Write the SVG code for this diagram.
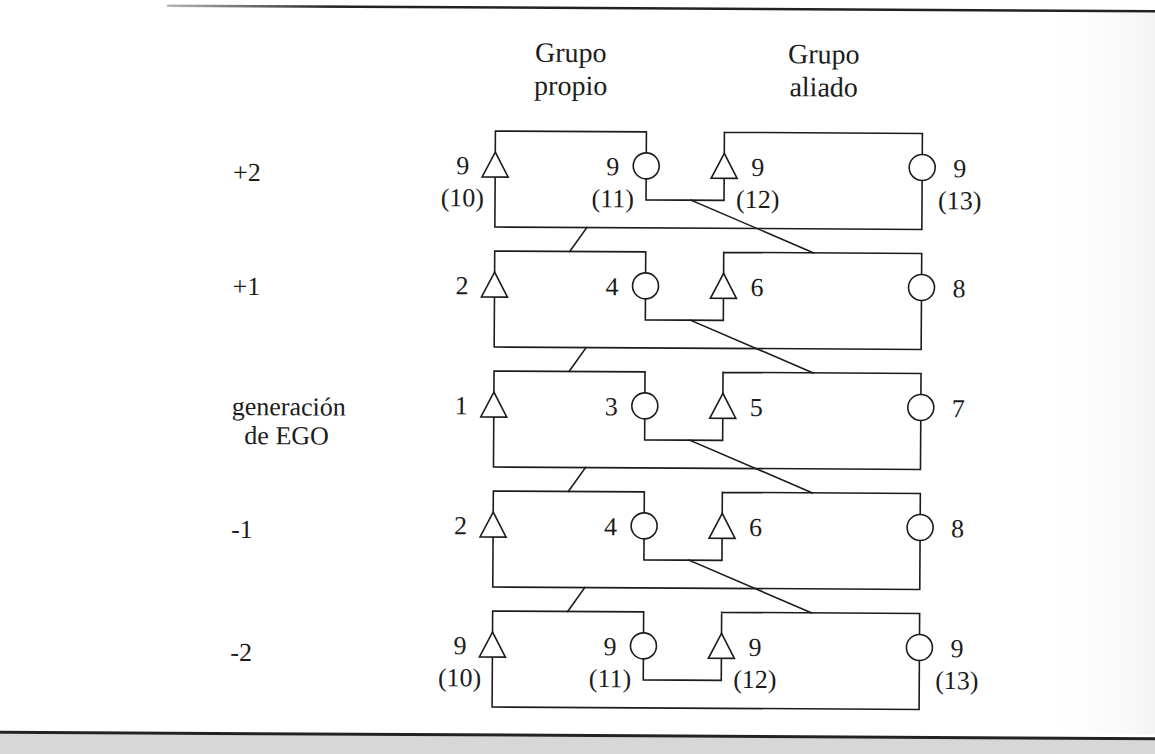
<svg xmlns="http://www.w3.org/2000/svg" width="1155" height="754" viewBox="0 0 1155 754">
<defs>
<style>
.ln{fill:none;stroke:#1c1c1c;stroke-width:1.6;stroke-linecap:square}
.sym{fill:#fff;stroke:#1c1c1c;stroke-width:1.6}
.t{font-family:"Liberation Serif","Times New Roman",serif;font-size:26px;fill:#1c1c1c}
.h{font-family:"Liberation Serif","Times New Roman",serif;font-size:28px;fill:#1c1c1c;text-anchor:middle}
.e{text-anchor:end}
.m{text-anchor:middle}
</style>
<linearGradient id="topfade" gradientUnits="userSpaceOnUse" x1="160" y1="0" x2="330" y2="0">
<stop offset="0" stop-color="#bbbbbb"/>
<stop offset="1" stop-color="#222222"/>
</linearGradient>
<linearGradient id="edge" x1="0" y1="0" x2="1" y2="0">
<stop offset="0" stop-color="#ffffff" stop-opacity="0"/>
<stop offset="1" stop-color="#ececec" stop-opacity="1"/>
</linearGradient>
</defs>
<rect width="1155" height="754" fill="#ffffff"/>
<rect x="1040" y="12" width="115" height="722" fill="url(#edge)" opacity="0.6"/>
<g transform="rotate(0.33 577 377)">
<line x1="165" y1="8" x2="1160" y2="8" stroke="url(#topfade)" stroke-width="2.5"/>
<rect x="-10" y="737" width="1180" height="25" fill="#d7d7d7"/>
<line x1="-10" y1="735.5" x2="1170" y2="735.5" stroke="#222" stroke-width="3"/>

<g id="headers">
<text class="h" x="569" y="62">Grupo</text>
<text class="h" x="569" y="95">propio</text>
<text class="h" x="822" y="62">Grupo</text>
<text class="h" x="822" y="95">aliado</text>
</g>

<g id="generations">
<text class="t" x="232" y="183">+2</text>
<text class="t" x="232" y="297">+1</text>
<text class="t" x="232" y="417">generación</text>
<text class="t m" x="287" y="446">de EGO</text>
<text class="t" x="232" y="540">-1</text>
<text class="t" x="232" y="663">-2</text>
</g>

<g id="connectors">
<path class="ln" d="M494,131.5H645 M494,131.5V152.5 M494,177.5V227.5 M645,131.5V152.5 M645,178.5V199.5 M723,131.5H921 M723,131.5V152.5 M723,177.5V199.5 M921,131.5V152.5 M921,178.5V227.5 M645,199.5H723 M494,227.5H921"/>
<path class="ln" d="M586,227.5L569,251.5 M690,199.5L813,251.5"/>
<path class="ln" d="M494,251.5H645 M494,251.5V272.5 M494,297.5V347.5 M645,251.5V272.5 M645,298.5V319.5 M723,251.5H921 M723,251.5V272.5 M723,297.5V319.5 M921,251.5V272.5 M921,298.5V347.5 M645,319.5H723 M494,347.5H921"/>
<path class="ln" d="M586,347.5L569,371.5 M690,319.5L813,371.5"/>
<path class="ln" d="M494,371.5H645 M494,371.5V392.5 M494,417.5V467.5 M645,371.5V392.5 M645,418.5V439.5 M723,371.5H921 M723,371.5V392.5 M723,417.5V439.5 M921,371.5V392.5 M921,418.5V467.5 M645,439.5H723 M494,467.5H921"/>
<path class="ln" d="M586,467.5L569,491.5 M690,439.5L813,491.5"/>
<path class="ln" d="M494,491.5H645 M494,491.5V512.5 M494,537.5V587.5 M645,491.5V512.5 M645,538.5V559.5 M723,491.5H921 M723,491.5V512.5 M723,537.5V559.5 M921,491.5V512.5 M921,538.5V587.5 M645,559.5H723 M494,587.5H921"/>
<path class="ln" d="M586,587.5L569,611.5 M690,559.5L813,611.5"/>
<path class="ln" d="M494,611.5H645 M494,611.5V632.5 M494,657.5V707.5 M645,611.5V632.5 M645,658.5V679.5 M723,611.5H921 M723,611.5V632.5 M723,657.5V679.5 M921,611.5V632.5 M921,658.5V707.5 M645,679.5H723 M494,707.5H921"/>
</g>

<g id="n10"><polygon class="sym" points="494,152.5 481,177.5 507,177.5"/><text class="t e" x="468" y="175">9</text><text class="t e" x="483" y="207">(10)</text></g>
<g id="n11"><circle class="sym" cx="645" cy="165.5" r="13"/><text class="t e" x="618" y="175">9</text><text class="t e" x="633" y="207">(11)</text></g>
<g id="n12"><polygon class="sym" points="723,152.5 710,177.5 736,177.5"/><text class="t" x="750" y="175">9</text><text class="t" x="735" y="207">(12)</text></g>
<g id="n13"><circle class="sym" cx="921" cy="165.5" r="13"/><text class="t" x="952" y="175">9</text><text class="t" x="937" y="207">(13)</text></g>
<g id="p1_2"><polygon class="sym" points="494,272.5 481,297.5 507,297.5"/><text class="t e" x="468" y="295">2</text></g>
<g id="p1_4"><circle class="sym" cx="645" cy="285.5" r="13"/><text class="t e" x="618" y="295">4</text></g>
<g id="p1_6"><polygon class="sym" points="723,272.5 710,297.5 736,297.5"/><text class="t" x="750" y="295">6</text></g>
<g id="p1_8"><circle class="sym" cx="921" cy="285.5" r="13"/><text class="t" x="952" y="295">8</text></g>
<g id="g0_1"><polygon class="sym" points="494,392.5 481,417.5 507,417.5"/><text class="t e" x="468" y="415">1</text></g>
<g id="g0_3"><circle class="sym" cx="645" cy="405.5" r="13"/><text class="t e" x="618" y="415">3</text></g>
<g id="g0_5"><polygon class="sym" points="723,392.5 710,417.5 736,417.5"/><text class="t" x="750" y="415">5</text></g>
<g id="g0_7"><circle class="sym" cx="921" cy="405.5" r="13"/><text class="t" x="952" y="415">7</text></g>
<g id="m1_2"><polygon class="sym" points="494,512.5 481,537.5 507,537.5"/><text class="t e" x="468" y="535">2</text></g>
<g id="m1_4"><circle class="sym" cx="645" cy="525.5" r="13"/><text class="t e" x="618" y="535">4</text></g>
<g id="m1_6"><polygon class="sym" points="723,512.5 710,537.5 736,537.5"/><text class="t" x="750" y="535">6</text></g>
<g id="m1_8"><circle class="sym" cx="921" cy="525.5" r="13"/><text class="t" x="952" y="535">8</text></g>
<g id="m2_10"><polygon class="sym" points="494,632.5 481,657.5 507,657.5"/><text class="t e" x="468" y="655">9</text><text class="t e" x="483" y="687">(10)</text></g>
<g id="m2_11"><circle class="sym" cx="645" cy="645.5" r="13"/><text class="t e" x="618" y="655">9</text><text class="t e" x="633" y="687">(11)</text></g>
<g id="m2_12"><polygon class="sym" points="723,632.5 710,657.5 736,657.5"/><text class="t" x="750" y="655">9</text><text class="t" x="735" y="687">(12)</text></g>
<g id="m2_13"><circle class="sym" cx="921" cy="645.5" r="13"/><text class="t" x="952" y="655">9</text><text class="t" x="937" y="687">(13)</text></g>
</g>
</svg>
